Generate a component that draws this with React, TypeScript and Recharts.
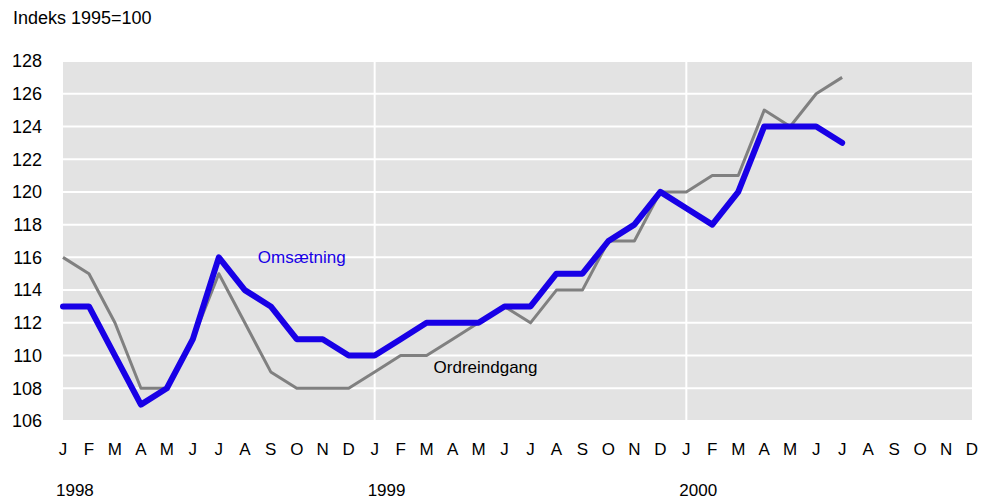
import { LineChart, Line, XAxis, YAxis, CartesianGrid, ReferenceLine, ReferenceDot } from "recharts"

const YEARS = ["1998", "1999", "2000"]
const MONTHS = ["J", "F", "M", "A", "M", "J", "J", "A", "S", "O", "N", "D"]
const Y_TICKS = [106, 108, 110, 112, 114, 116, 118, 120, 122, 124, 126, 128]

// monthly index values, Jan 1998 .. Jul 2000
const OMSAETNING = [
  113, 113, 110, 107, 108, 111, 116, 114, 113, 111, 111, 110,
  110, 111, 112, 112, 112, 113, 113, 115, 115, 117, 118, 120,
  119, 118, 120, 124, 124, 124, 123,
]
const ORDREINDGANG = [
  116, 115, 112, 108, 108, 111, 115, 112, 109, 108, 108, 108,
  109, 110, 110, 111, 112, 113, 112, 114, 114, 117, 117, 120,
  120, 121, 121, 125, 124, 126, 127,
]

const FONT = "'Liberation Sans', Arial, sans-serif"
const BLUE = "#1800e6"
const GREY = "#808080"

const data = YEARS.flatMap((y, yi) =>
  MONTHS.map((m, mi) => {
    const i = yi * 12 + mi
    return {
      key: `${y}-${mi + 1}`,
      month: m,
      year: mi === 0 ? y : "",
      oms: OMSAETNING[i],
      ordre: ORDREINDGANG[i],
    }
  })
)

function MonthTick(props: any) {
  const { x, y, index } = props
  const row = data[index]
  if (!row) return null
  return (
    <g>
      <text x={x} y={y + 26} textAnchor="middle" fontFamily={FONT} fontSize={17} fill="#000">
        {row.month}
      </text>
      {row.year && (
        <text x={x - 7} y={y + 67} textAnchor="start" fontFamily={FONT} fontSize={17} fill="#000">
          {row.year}
        </text>
      )}
    </g>
  )
}

export default function App() {
  return (
    <div style={{ position: "absolute", left: 0, top: 0, width: 992, height: 501, background: "#fff" }}>
      <div style={{ position: "absolute", left: 13, top: 8, fontFamily: FONT, fontSize: 18, color: "#000" }}>
        Indeks 1995=100
      </div>
      <LineChart width={992} height={501} data={data} margin={{ top: 61, right: 20, bottom: 0, left: 0 }}>
        <CartesianGrid vertical={false} stroke="#fff" strokeWidth={2} fill="#e3e3e3" />
        <ReferenceLine x="1999-1" stroke="#fff" strokeWidth={2} />
        <ReferenceLine x="2000-1" stroke="#fff" strokeWidth={2} />
        <XAxis dataKey="key" interval={0} height={80} axisLine={false} tickLine={false} tick={<MonthTick />} padding={{ left: 0, right: 0 }} />
        <YAxis
          width={63}
          domain={[106, 128]}
          ticks={Y_TICKS}
          interval={0}
          axisLine={false}
          tickLine={false}
          tickSize={0}
          tickMargin={21}
          tick={{ fontFamily: FONT, fontSize: 18, fill: "#000" }}
        />
        <Line dataKey="ordre" stroke={GREY} strokeWidth={3} dot={false} isAnimationActive={false} strokeLinejoin="round" />
        <Line dataKey="oms" stroke={BLUE} strokeWidth={6} dot={false} isAnimationActive={false} strokeLinejoin="round" strokeLinecap="round" />
        <ReferenceDot x="1998-10" y={116} r={0} fill="none" stroke="none"
          label={{ value: "Omsætning", position: "center", dx: 5, fill: BLUE, fontFamily: FONT, fontSize: 17 }} />
        <ReferenceDot x="1999-5" y={109.3} r={0} fill="none" stroke="none"
          label={{ value: "Ordreindgang", position: "center", dx: 7, fill: "#000", fontFamily: FONT, fontSize: 17 }} />
      </LineChart>
    </div>
  )
}
